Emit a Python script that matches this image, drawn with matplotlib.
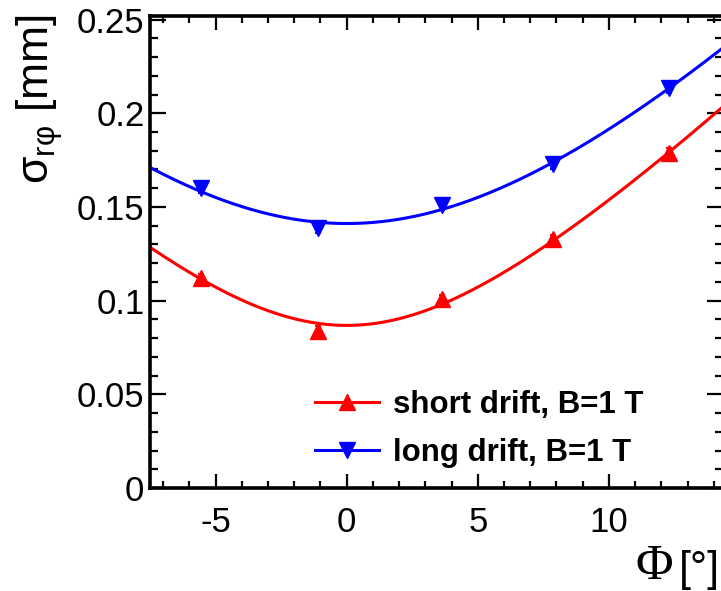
import numpy as np
import matplotlib
matplotlib.use("Agg")
import matplotlib.pyplot as plt
from matplotlib.ticker import MultipleLocator

# Measured resolution vs. track angle
phi_deg = [-5.55, -1.1, 3.65, 7.85, 12.3]
sigma_short = [0.1119, 0.0839, 0.1007, 0.1327, 0.1789]
sigma_long = [0.1599, 0.1386, 0.1510, 0.1729, 0.2133]
sigma_err = [0.0025, 0.0025, 0.0025, 0.0025, 0.0025]

labels = ["short drift, B=1 T", "long drift, B=1 T"]
colors = ["#ff0000", "#0000ff"]
markers = ["^", "v"]

x_range = (-7.5, 14.35)
y_range = (0.0, 0.2519)

plt.rcParams["font.family"] = ["Liberation Sans", "DejaVu Sans"]
plt.rcParams["mathtext.fontset"] = "custom"
plt.rcParams["mathtext.rm"] = "Liberation Sans"

fig = plt.figure(figsize=(7.21, 5.91), dpi=100)
ax = fig.add_axes([150 / 721, 103 / 591, 573 / 721, 472 / 591])


def fit_angle(x, y):
    """Fit sigma^2 = p0 + p1 * tan^2(phi)."""
    t2 = np.tan(np.radians(x)) ** 2
    p1, p0 = np.polyfit(t2, np.asarray(y) ** 2, 1)
    return lambda xx: np.sqrt(p0 + p1 * np.tan(np.radians(xx)) ** 2)


xs = np.linspace(x_range[0], x_range[1], 400)
handles = []
for ys, col, mk, lab in zip([sigma_short, sigma_long], colors, markers, labels):
    f = fit_angle(phi_deg, ys)
    ax.plot(xs, f(xs), color=col, lw=2.2, zorder=2)
    ax.errorbar(phi_deg, ys, yerr=sigma_err, fmt=mk, color=col, ms=11,
                elinewidth=1.5, capsize=2.5, capthick=1.5, zorder=3)
    h, = ax.plot([], [], color=col, lw=2.2, marker=mk, ms=11, label=lab)
    handles.append(h)

ax.set_xlim(*x_range)
ax.set_ylim(*y_range)

ax.xaxis.set_major_locator(MultipleLocator(5))
ax.xaxis.set_minor_locator(MultipleLocator(1))
ax.yaxis.set_major_locator(MultipleLocator(0.05))
ax.yaxis.set_minor_locator(MultipleLocator(0.01))
ax.yaxis.set_major_formatter(plt.FuncFormatter(lambda v, p: f"{v:g}"))
ax.xaxis.set_major_formatter(plt.FuncFormatter(lambda v, p: f"{v:g}"))

for s in ax.spines.values():
    s.set_linewidth(2.6)

ax.tick_params(axis="both", which="both", direction="in", top=True, right=True,
               width=1.6, labelsize=25)
ax.tick_params(axis="y", which="major", length=11.5, pad=4)
ax.tick_params(axis="y", which="minor", length=5.8)
ax.tick_params(axis="x", which="major", length=10, pad=13)
ax.tick_params(axis="x", which="minor", length=5)

leg = ax.legend(handles=handles, loc="upper left",
                bbox_to_anchor=(315 / 721, 1 - 390 / 591),
                bbox_transform=fig.transFigure, frameon=False,
                prop={"weight": "bold", "size": 22.5}, handlelength=2.05,
                handletextpad=0.45, labelspacing=0.56, borderpad=0,
                borderaxespad=0)

fig.text(40 / 721, 1 - 14 / 591, "σ$_{\\mathregular{rφ}}$ [mm]", rotation=90,
         ha="center", va="top", fontsize=32)

fig.text(673 / 721, 1 / 591, "Φ", family=["Liberation Serif", "DejaVu Serif"],
         fontsize=37, ha="right", va="bottom")
fig.text(720 / 721, 1 - 581 / 591, "[°]", fontsize=31, ha="right", va="baseline")

fig.savefig("out.png", dpi=100)
